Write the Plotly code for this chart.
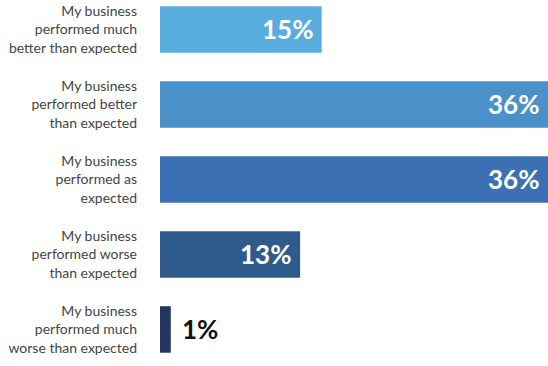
import plotly.graph_objects as go

categories = [
    "My business<br>performed much<br>better than expected",
    "My business<br>performed better<br>than expected",
    "My business<br>performed as<br>expected",
    "My business<br>performed worse<br>than expected",
    "My business<br>performed much<br>worse than expected",
]
values = [15, 36, 36, 13, 1]
labels = ["15%", "36%", "36%", "13%", "1%"]
colors = ["#58ADDE", "#4A90C9", "#3B71B4", "#2E5A8C", "#243660"]

fig = go.Figure()
fig.add_trace(go.Bar(
    x=values, y=categories, orientation="h",
    marker=dict(color=colors, line=dict(width=0)),
    width=0.62, hoverinfo="skip",
))

for cat, v, lab in zip(categories, values, labels):
    inside = v >= 5
    fig.add_annotation(
        x=v, y=cat, text=lab, showarrow=False,
        xanchor="right" if inside else "left",
        xshift=-7 if inside else 9,
        font=dict(family="Lato", size=26, color="white" if inside else "#111111", weight="bold"),
    )

fig.update_layout(
    width=548, height=366,
    margin=dict(l=160, r=0, t=0, b=0),
    paper_bgcolor="white", plot_bgcolor="white",
    showlegend=False,
    xaxis=dict(range=[0, 36], visible=False, fixedrange=True),
    yaxis=dict(
        range=[4.487, -0.393], showgrid=False, zeroline=False, showline=False,
        ticks="", ticklabelstandoff=22,
        tickfont=dict(family="Lato", size=14, color="#444444"),
        fixedrange=True,
    ),
)

fig.write_html("out.html", config={"displayModeBar": False},
               post_script="document.body.style.margin='0';document.body.style.overflow='hidden';")
